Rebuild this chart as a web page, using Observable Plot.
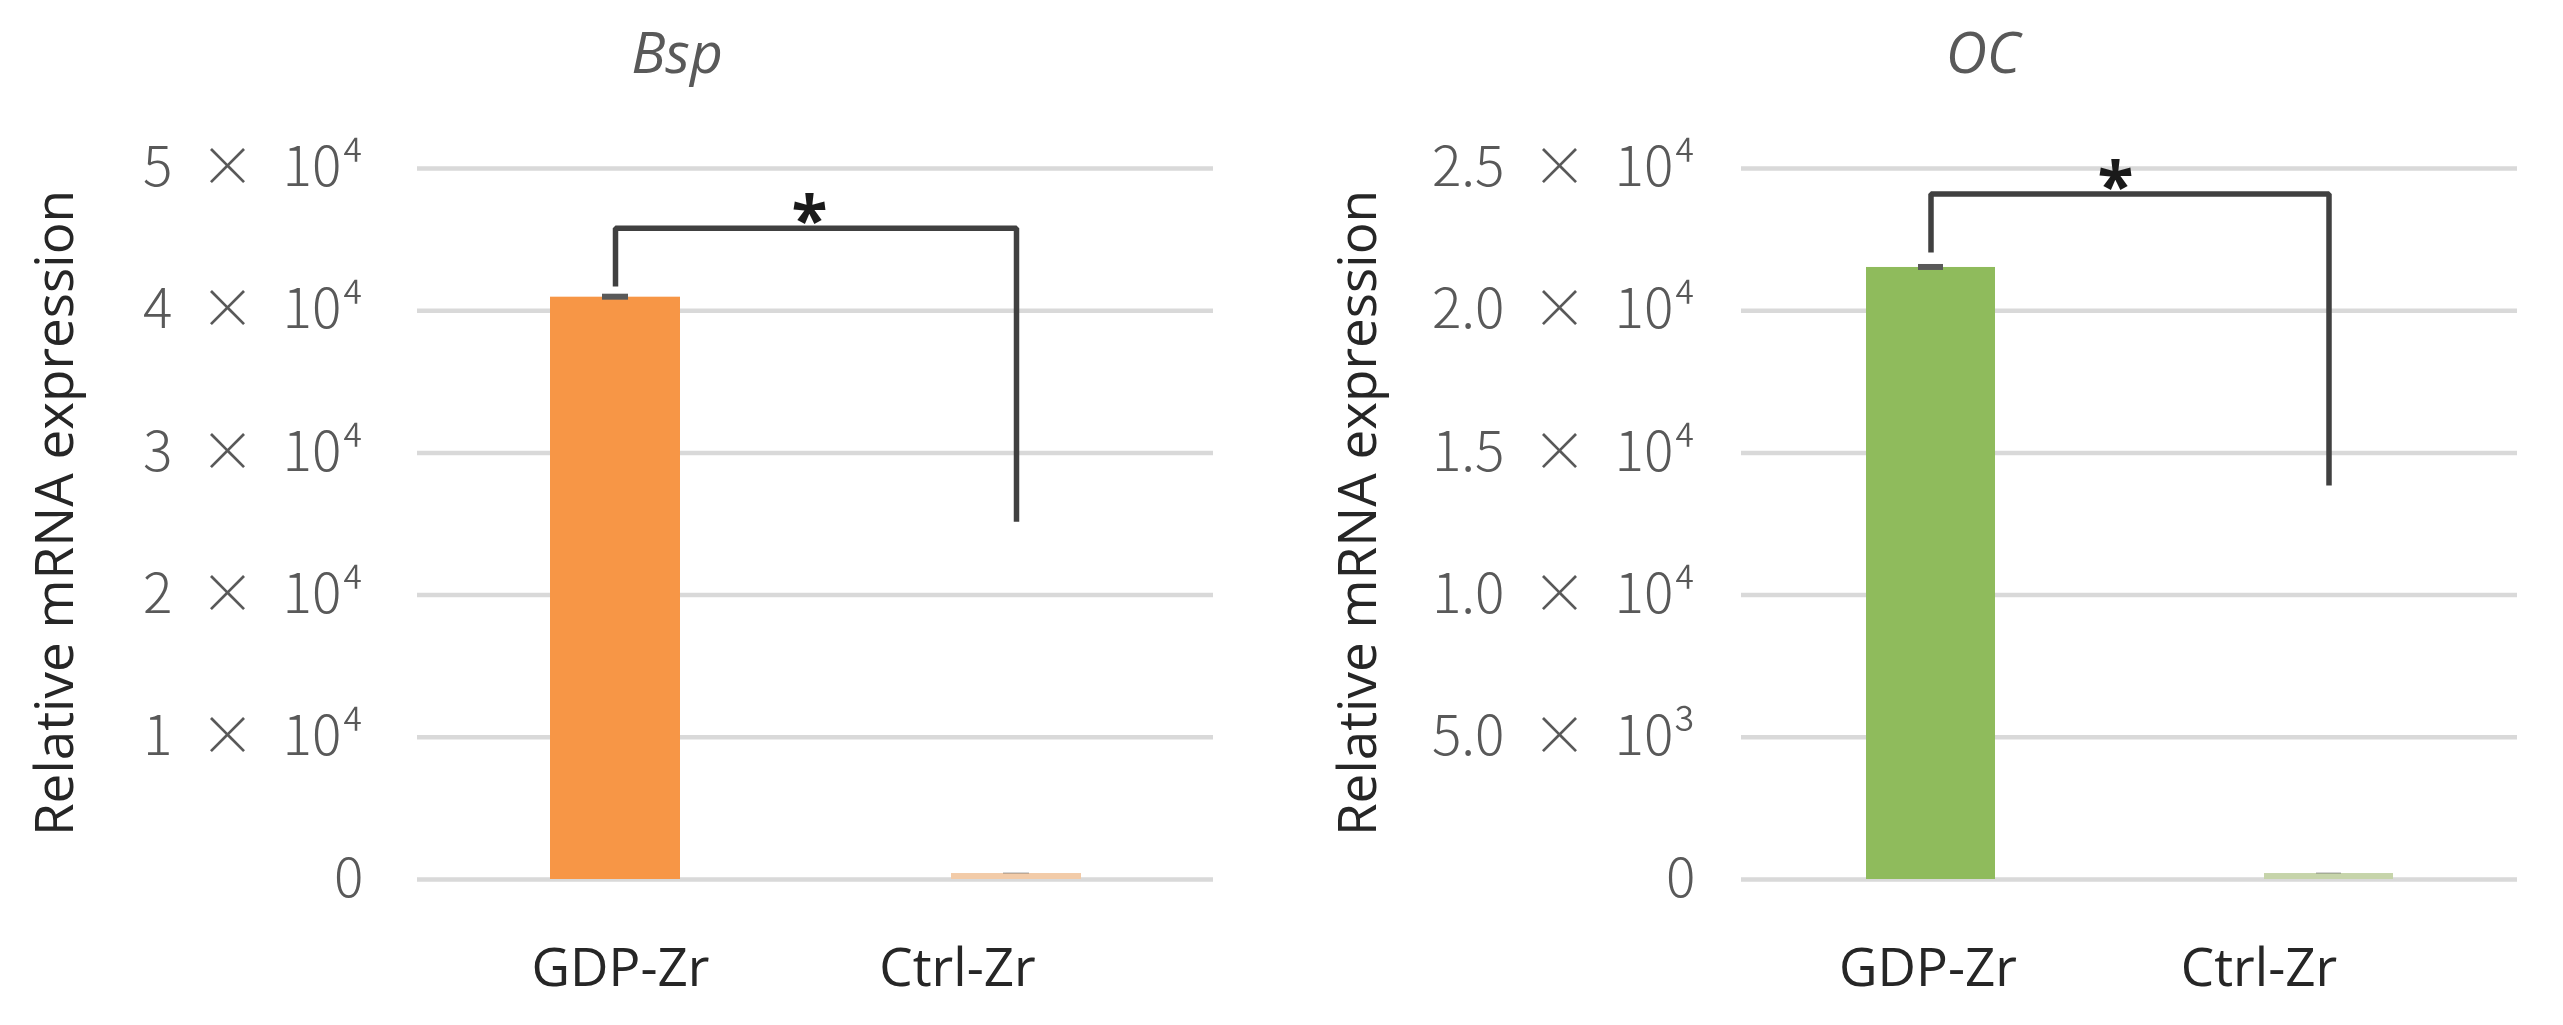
<!DOCTYPE html>
<html>
<head>
<meta charset="utf-8">
<script src="https://cdn.jsdelivr.net/npm/d3@7"></script>
<script src="https://cdn.jsdelivr.net/npm/@observablehq/plot@0.6"></script>
<style>
  body { margin: 0; background: #ffffff; }
  #wrap { position: relative; width: 2563px; height: 1025px; overflow: hidden; background: #ffffff; }
  .panel { position: absolute; top: 0; }
  .title { position: absolute; font-family: "Open Sans", sans-serif; font-style: italic; font-size: 57px; line-height: 57px; color: #595959; white-space: nowrap; transform: translateX(-50%); }
  .ylab { position: absolute; font-family: "Open Sans", sans-serif; font-size: 53px; line-height: 53px; color: #262626; white-space: nowrap; transform: translate(-50%, -50%) rotate(-90deg); }
</style>
</head>
<body>
<div id="wrap"></div>
<script>
// ---- data ----
const groups = ["GDP-Zr", "Ctrl-Zr"];

const bspTitle = "Bsp";
const bspValues = [40950, 420];
const bspErrors = [210, 20];
const bspColors = ["#F79646", "#F2CBA8"];
const bspTicks = [0, 10000, 20000, 30000, 40000, 50000];
const bspTickLabels = ["0", "1\u2002\u00d7\u200210\u2074", "2\u2002\u00d7\u200210\u2074", "3\u2002\u00d7\u200210\u2074", "4\u2002\u00d7\u200210\u2074", "5\u2002\u00d7\u200210\u2074"];
const bspBracket = [45800, 41700, 25150]; // top, GDP end, Ctrl end
const bspStar = 47324;

const ocTitle = "OC";
const ocValues = [21520, 210];
const ocErrors = [105, 10];
const ocColors = ["#8FBB5C", "#C6D4AA"];
const ocTicks = [0, 5000, 10000, 15000, 20000, 25000];
const ocTickLabels = ["0", "5.0\u2002\u00d7\u200210\u00b3", "1.0\u2002\u00d7\u200210\u2074", "1.5\u2002\u00d7\u200210\u2074", "2.0\u2002\u00d7\u200210\u2074", "2.5\u2002\u00d7\u200210\u2074"];
const ocBracket = [24100, 22050, 13850];
const ocStar = 24860;

const yLabel = "Relative mRNA expression";
const sigLabel = "*";

// ---- drawing ----
const tickFont = "'Noto Sans CJK JP', 'DejaVu Sans', sans-serif";
const textFont = "'Open Sans', sans-serif";

function panel(o) {
  const data = groups.map((g, i) => ({group: g, value: o.values[i], err: o.errors[i], color: o.colors[i]}));
  const bracket = [
    {g: groups[0], v: o.bracket[1]},
    {g: groups[0], v: o.bracket[0]},
    {g: groups[1], v: o.bracket[0]},
    {g: groups[1], v: o.bracket[2]}
  ];
  return Plot.plot({
    width: o.width,
    height: 1025,
    marginTop: 168,
    marginBottom: 146,
    marginLeft: o.marginLeft,
    marginRight: o.marginRight,
    style: {background: "transparent", fontFamily: textFont, color: "#595959"},
    x: {type: "band", domain: groups, paddingInner: o.paddingInner, paddingOuter: o.paddingOuter, axis: null},
    y: {domain: [0, o.ticks[o.ticks.length - 1]]},
    color: {type: "identity"},
    marks: [
      Plot.gridY(o.ticks, {stroke: "#D9D9D9", strokeOpacity: 1, strokeWidth: 4.5}),
      Plot.axisY(o.ticks, {
        tickSize: 0, tickPadding: o.tickPadding,
        tickFormat: d => o.tickLabels[o.ticks.indexOf(d)],
        fontSize: 55, fontFamily: tickFont, fontWeight: 300,
        color: "#595959", fill: "#595959", label: null
      }),
      Plot.barY(data, {x: "group", y: "value", fill: "color"}),
      Plot.barY(data, {x: "group", y1: d => d.value - d.err, y2: d => d.value + d.err, fill: "#595959", insetLeft: 52, insetRight: 52}),
      Plot.line(bracket, {x: "g", y: "v", stroke: "#404040", strokeWidth: 5.5, strokeLinejoin: "miter", strokeLinecap: "butt"}),
      Plot.text([o.star], {y: d => d, text: () => sigLabel, fontSize: 66, fontWeight: "bold", fontFamily: textFont, fill: "#1a1a1a", dx: o.starDx, dy: 16, lineAnchor: "middle"}),
      Plot.text(groups.slice(0, 1), {x: d => d, text: d => d, frameAnchor: "bottom", lineAnchor: "middle", dy: 90, dx: o.gdpDx, fontSize: 53, fontFamily: textFont, fill: "#262626"}),
      Plot.text(groups.slice(1), {x: d => d, text: d => d, frameAnchor: "bottom", lineAnchor: "middle", dy: 90, dx: o.ctrlDx, fontSize: 53, fontFamily: textFont, fill: "#262626"})
    ]
  });
}

const wrap = document.getElementById("wrap");

function place(node, left) {
  node.classList.add("panel");
  node.style.left = left + "px";
  wrap.appendChild(node);
}

place(panel({
  width: 1281, marginLeft: 417, marginRight: 68,
  paddingInner: 0.676, paddingOuter: 0.33,
  ticks: bspTicks, tickLabels: bspTickLabels, tickPadding: 54,
  values: bspValues, errors: bspErrors, colors: bspColors,
  bracket: bspBracket, star: bspStar, starDx: -6, gdpDx: 5, ctrlDx: -59
}), 0);

place(panel({
  width: 1282, marginLeft: 460, marginRight: 46,
  paddingInner: 0.677, paddingOuter: 0.313,
  ticks: ocTicks, tickLabels: ocTickLabels, tickPadding: 46,
  values: ocValues, errors: ocErrors, colors: ocColors,
  bracket: ocBracket, star: ocStar, starDx: -14, gdpDx: -3, ctrlDx: -70
}), 1281);

function addText(cls, text, left, top) {
  const d = document.createElement("div");
  d.className = cls;
  d.textContent = text;
  d.style.left = left + "px";
  d.style.top = top + "px";
  wrap.appendChild(d);
}
addText("title", bspTitle, 677, 23);
addText("title", ocTitle, 1983, 23);
addText("ylab", yLabel, 52, 513);
addText("ylab", yLabel, 1355, 513);
</script>
</body>
</html>
